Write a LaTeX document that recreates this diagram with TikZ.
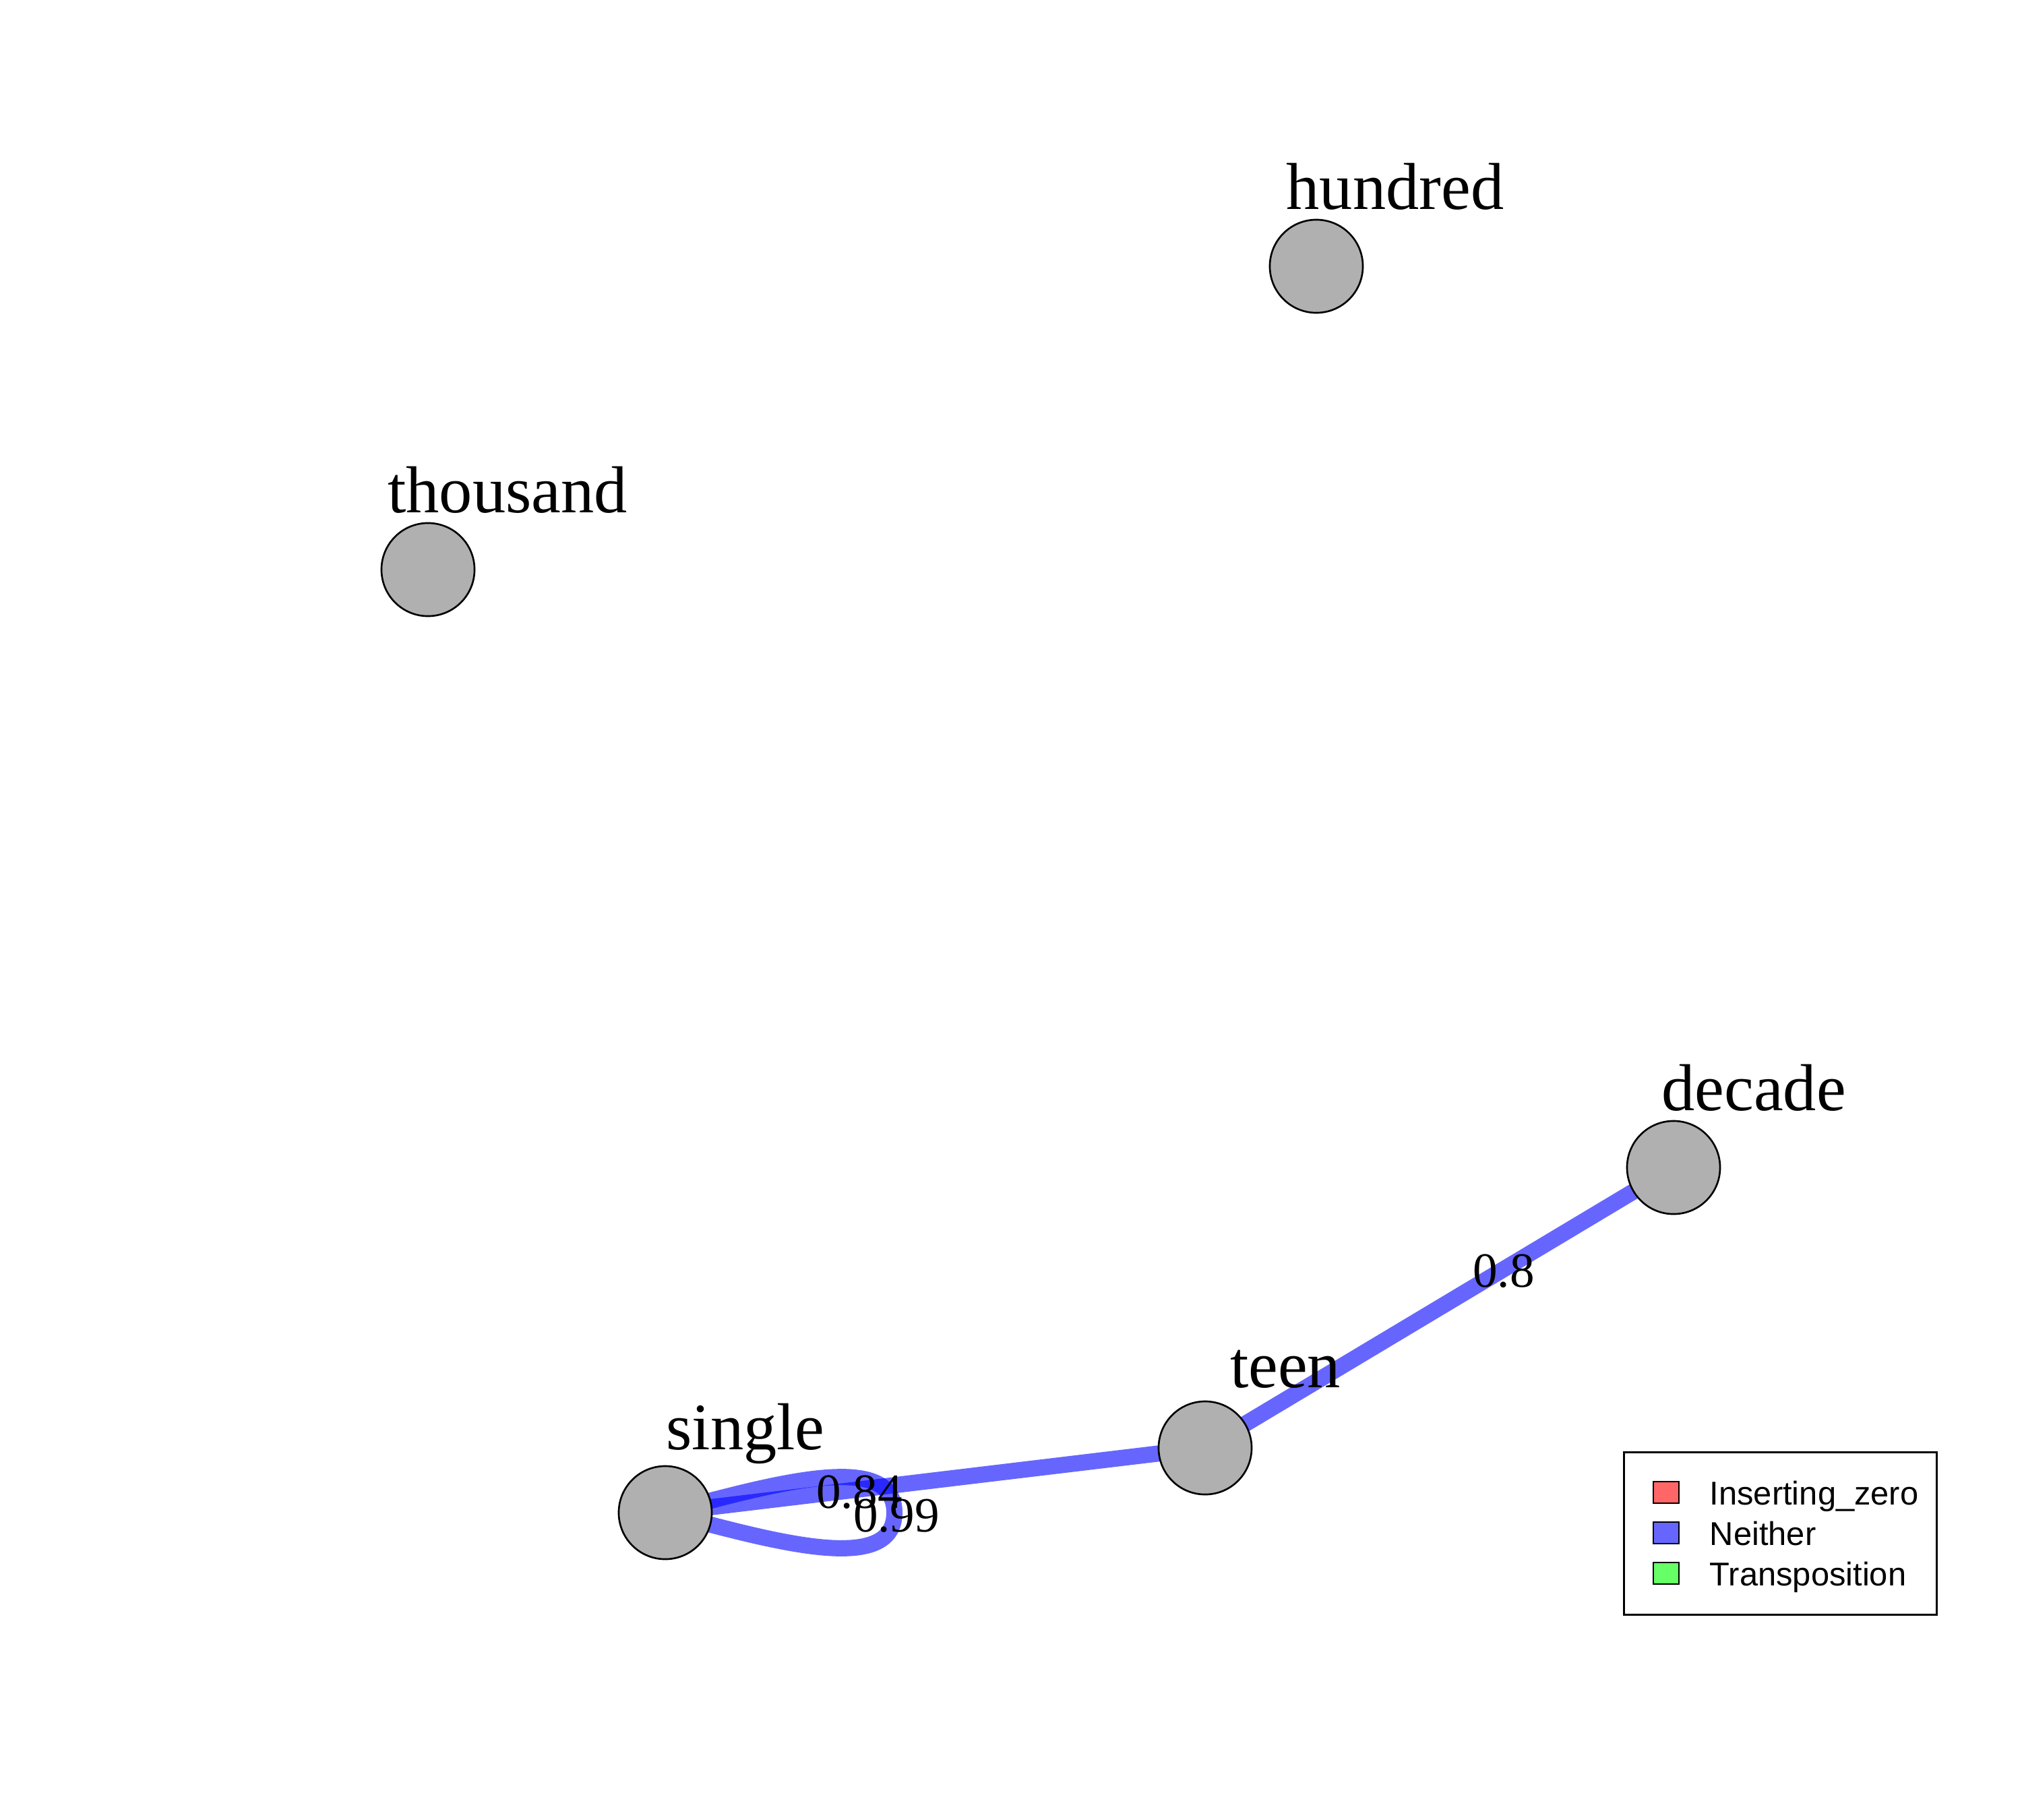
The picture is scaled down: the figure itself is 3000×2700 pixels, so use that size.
\documentclass[tikz,border=0pt]{standalone}
\usepackage{fontspec}
\newfontfamily\labfont{Liberation Serif}
\newfontfamily\legfont{Liberation Sans}
\definecolor{nodegray}{RGB}{176,176,176}
\definecolor{legred}{RGB}{255,102,102}
\definecolor{legblue}{RGB}{102,102,255}
\definecolor{leggreen}{RGB}{102,255,102}
\pgfdeclarelayer{bg}
\pgfsetlayers{bg,main}
\tikzset{
  vert/.style={circle, draw=black, line width=0.75pt, fill=nodegray, minimum size=1.38cm, inner sep=0pt},
  vlab/.style={font=\labfont\fontsize{28}{30}\selectfont, inner sep=0pt, anchor=base},
  elab/.style={font=\labfont\fontsize{20.8}{22}\selectfont, inner sep=0pt, anchor=base},
  edgeline/.style={draw=blue, draw opacity=0.6, line width=0.24cm},
  legtext/.style={font=\legfont\fontsize{13.9}{15}\selectfont, inner sep=0pt, anchor=base west},
  legkey/.style={draw=black, line width=0.75pt, minimum width=0.38cm, minimum height=0.32cm, inner sep=0pt},
}
\begin{document}
\begin{tikzpicture}[x=0.01cm, y=-0.01cm]
\useasboundingbox (0,0) rectangle (3000,2700);
% vertices
\node[vert] (hundred) at (1953,395) {};
\node[vert] (thousand) at (635,845) {};
\node[vert] (decade) at (2483,1732) {};
\node[vert] (teen) at (1788,2148) {};
\node[vert] (single) at (987,2244) {};
% vertex labels
\node[vlab] (hundredl) at (2070,310) {hundred};
\node[vlab] (thousandl) at (753,760) {thousand};
\node[vlab] (decadel) at (2602,1647) {decade};
\node[vlab] (teenl) at (1907,2058) {teen};
\node[vlab] (singlel) at (1106,2150) {single};
% loop tip
\coordinate (looptip) at (1327,2244);
% edges
\begin{pgfonlayer}{bg}
\draw[edgeline] (single.center) -- (teen.center);
\draw[edgeline] (teen.center) -- (decade.center);
\draw[edgeline] (single.center) .. controls (1142,2203) and (1327,2149) .. (looptip)
  .. controls (1327,2339) and (1142,2285) .. (single.center);
\end{pgfonlayer}
% edge labels
\node[elab] (l08) at (2231,1909) {0.8};
\node[elab] (l084) at (1275,2237) {0.84};
\node[elab] (l099) at (1330,2272) {0.99};
% legend
\node[draw=black, line width=0.75pt, minimum width=4.64cm, minimum height=2.41cm, anchor=north west, inner sep=0pt] (legend) at (2408,2153) {};
\node[legkey, fill=legred] (k1) at (2472,2214) {};
\node[legkey, fill=legblue] (k2) at (2472,2274) {};
\node[legkey, fill=leggreen] (k3) at (2472,2334) {};
\node[legtext] (t1) at (2536,2232) {Inserting\_zero};
\node[legtext] (t2) at (2536,2292) {Neither};
\node[legtext] (t3) at (2536,2352) {Transposition};
\end{tikzpicture}
\end{document}
